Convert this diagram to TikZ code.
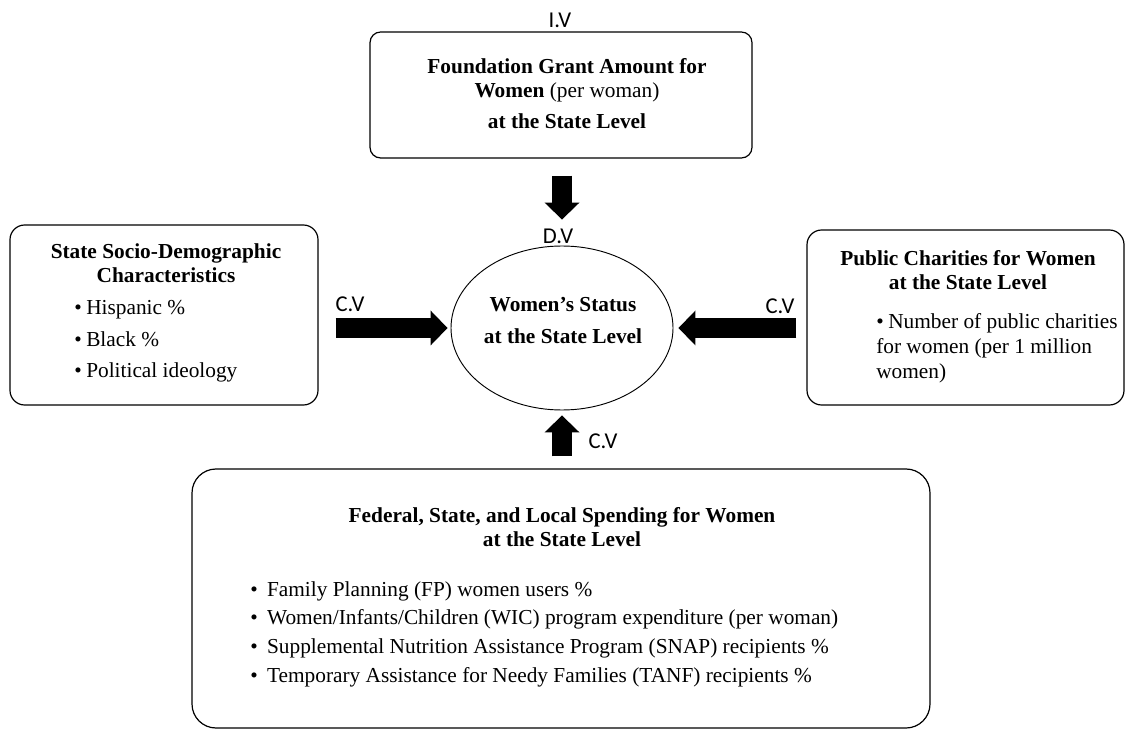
\documentclass[tikz,border=0pt]{standalone}
\usepackage{fontspec}
\setmainfont{Liberation Serif}
\newfontfamily\cvfont{Carlito}
\usetikzlibrary{arrows.meta,shapes.geometric}
\newcommand{\itm}[1][3.4pt]{\textbullet\hspace{#1}}
\tikzset{
    box/.style={draw, line width=0.9pt, inner sep=0pt},
    txt/.style={inner sep=0pt, anchor=north},
    cv/.style={inner sep=0pt, font=\cvfont\fontsize{17}{19}\selectfont},
    bigarrow/.style={line width=15pt, -{Triangle[width=26.25pt, length=12.75pt, line width=0pt]}}
}

\begin{document}
\begin{tikzpicture}[x=0.75pt, y=-0.75pt, font=\fontsize{16}{18}\selectfont]
    \useasboundingbox (0,0) rectangle (1127,730);

    \node (grant) [box, rounded corners=8pt, minimum width=286.5pt, minimum height=94.5pt] at (561,95) {};
    \node (socio) [box, rounded corners=11pt, minimum width=231pt, minimum height=135pt] at (164,315) {};
    \node (charity) [box, rounded corners=11pt, minimum width=237.75pt, minimum height=131.25pt] at (965.5,317.5) {};
    \node (spend) [box, rounded corners=18pt, minimum width=553.5pt, minimum height=194.25pt] at (561,598.5) {};
    \node (status) [draw, ellipse, line width=0.7pt, inner sep=0pt, minimum width=166.5pt, minimum height=123pt] at (562,328) {};

    % texts
    \node (granttxt) [txt, align=center] at (567,58) {\textbf{Foundation Grant Amount for}\\\textbf{Women} (per woman)\\[5.25pt]\textbf{at the State Level}};
    \node (statustxt) [txt, align=center] at (563,297) {\textbf{Women’s Status}\\[6pt]\textbf{at the State Level}};
    \node (sociotxt) [txt, align=center] at (166,243) {\textbf{State Socio-Demographic}\\\textbf{Characteristics}};
    \node (socioitems) [txt, anchor=north west, align=left] at (74,300.5) {\itm Hispanic \%\\[5.6pt]\itm Black \%\\[5.6pt]\itm Political ideology};
    \node (charitytxt) [txt, align=center] at (968,250) {\textbf{Public Charities for Women}\\\textbf{at the State Level}};
    \node (charityitems) [txt, anchor=north west, align=left] at (876,313) {\itm[3.4pt]Number of public charities\\[0.75pt]for women (per 1 million\\[0.75pt]women)};
    \node (spendtxt) [txt, align=center] at (562,507) {\textbf{Federal, State, and Local Spending for Women}\\\textbf{at the State Level}};
    \node (spenditems) [txt, anchor=north west, align=left] at (250,581) {\itm[7pt]Family Planning (FP) women users \%\\[3.5pt]\itm[7pt]Women/Infants/Children (WIC) program expenditure (per woman)\\[3.5pt]\itm[7pt]Supplemental Nutrition Assistance Program (SNAP) recipients \%\\[3.5pt]\itm[7pt]Temporary Assistance for Needy Families (TANF) recipients \%};

    % variable labels
    \node (iv) [cv] at (560,20) {I.V};
    \node (dv) [cv] at (558,236) {D.V};
    \node (cvleft) [cv] at (350,304) {C.V};
    \node (cvright) [cv] at (780,306) {C.V};
    \node (cvbottom) [cv] at (603,441) {C.V};

    \draw [bigarrow, shorten <=12.75pt, shorten >=19.5pt] (status.north |- grant.south) -- (status.north);
    \draw [bigarrow, shorten <=12.75pt, shorten >=2.25pt] (status.west -| socio.east) -- (status.west);
    \draw [bigarrow, shorten <=7.5pt, shorten >=3.75pt] (status.east -| charity.west) -- (status.east);
    \draw [bigarrow, shorten <=9pt, shorten >=3.75pt] (status.south |- spend.north) -- (status.south);
\end{tikzpicture}
\end{document}
